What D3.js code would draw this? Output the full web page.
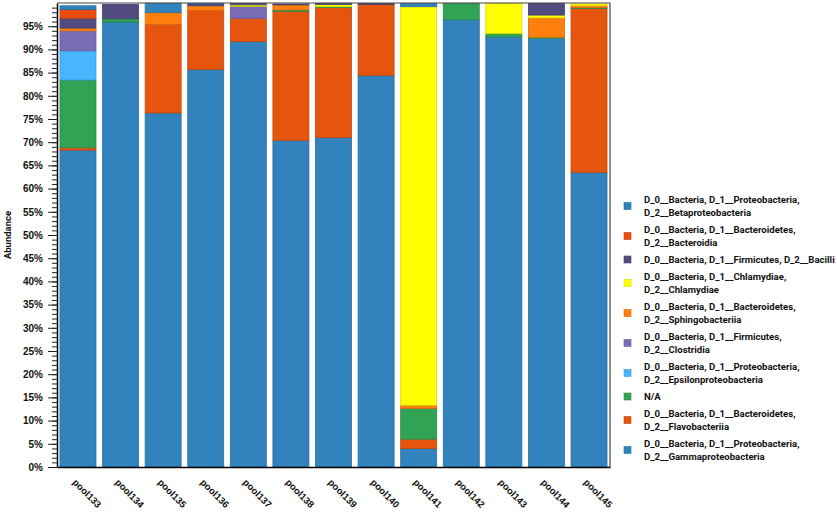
<!DOCTYPE html>
<html>
<head>
<meta charset="utf-8">
<script src="https://cdn.jsdelivr.net/npm/d3@7"></script>
<style>
  body { margin: 0; background: #fff; }
  svg { font-family: Roboto, "Noto Sans", sans-serif; }
  .tick text { font-weight: 700; fill: #111; }
</style>
</head>
<body>
<svg id="chart"></svg>
<script>
// --- data (percent abundance per pool) ---
const samples = ["pool133", "pool134", "pool135", "pool136", "pool137", "pool138", "pool139",
                 "pool140", "pool141", "pool142", "pool143", "pool144", "pool145"];

// legend order (top of legend = top of stack)
const taxa = [
    "D_0__Bacteria, D_1__Proteobacteria, D_2__Betaproteobacteria",
    "D_0__Bacteria, D_1__Bacteroidetes, D_2__Bacteroidia",
    "D_0__Bacteria, D_1__Firmicutes, D_2__Bacilli",
    "D_0__Bacteria, D_1__Chlamydiae, D_2__Chlamydiae",
    "D_0__Bacteria, D_1__Bacteroidetes, D_2__Sphingobacteriia",
    "D_0__Bacteria, D_1__Firmicutes, D_2__Clostridia",
    "D_0__Bacteria, D_1__Proteobacteria, D_2__Epsilonproteobacteria",
    "N/A",
    "D_0__Bacteria, D_1__Bacteroidetes, D_2__Flavobacteriia",
    "D_0__Bacteria, D_1__Proteobacteria, D_2__Gammaproteobacteria"
];

// how the legend wraps its labels
const legendLines = [
    ["D_0__Bacteria, D_1__Proteobacteria,", "D_2__Betaproteobacteria"],
    ["D_0__Bacteria, D_1__Bacteroidetes,", "D_2__Bacteroidia"],
    ["D_0__Bacteria, D_1__Firmicutes, D_2__Bacilli"],
    ["D_0__Bacteria, D_1__Chlamydiae,", "D_2__Chlamydiae"],
    ["D_0__Bacteria, D_1__Bacteroidetes,", "D_2__Sphingobacteriia"],
    ["D_0__Bacteria, D_1__Firmicutes,", "D_2__Clostridia"],
    ["D_0__Bacteria, D_1__Proteobacteria,", "D_2__Epsilonproteobacteria"],
    ["N/A"],
    ["D_0__Bacteria, D_1__Bacteroidetes,", "D_2__Flavobacteriia"],
    ["D_0__Bacteria, D_1__Proteobacteria,", "D_2__Gammaproteobacteria"]
];

const taxaColors = ["#3182bd", "#e84c0e", "#514b80", "#ffff00", "#ff7f0e",
                    "#7a6db5", "#48b6ff", "#31a354", "#e6550d", "#3182bd"];

// one array per taxon, values in sample order
const betaproteo   = [0.8, 0,   2.0,  0.1, 0,   0,    0,    0,    0.7,  0,    0,    0,    0];
const bacteroidia  = [1.9, 0,   0,    0,   0,   0,    0,    0,    0,    0,    0,    0,    0];
const bacilli      = [2.1, 3.1, 0,    0.4, 0.3, 0.2,  0.2,  0.2,  0,    0,    0,    2.5,  0];
const chlamydiae   = [0,   0,   0,    0,   0.3, 0,    0.5,  0,    85.9, 0,    6.5,  0.6,  0.4];
const sphingo      = [0.6, 0,   2.55, 1.0, 0,   1.1,  0,    0,    0.7,  0,    0,    4.2,  0.4];
const clostridia   = [4.3, 0,   0,    0,   2.6, 0,    0,    0,    0,    0,    0,    0,    0];
const epsilonproteo= [6.3, 0,   0,    0,   0,   0,    0,    0,    0,    0,    0,    0,    0];
const notAssigned  = [14.6,0.7, 0,    0,   0,   0.3,  0.2,  0,    6.6,  3.5,  0.7,  0.2,  0.2];
const flavo        = [0.5, 0,   19.1, 12.7,5.0, 27.8, 28.0, 15.3, 2.0,  0,    0,    0,    35.3];
const gammaproteo  = [68.3,95.9,76.3, 85.7,91.7,70.4, 71.0, 84.4, 4.0,  96.4, 92.7, 92.4, 63.5];

const series = [betaproteo, bacteroidia, bacilli, chlamydiae, sphingo,
                clostridia, epsilonproteo, notAssigned, flavo, gammaproteo];

const yMajorTicks = d3.range(0, 100, 5);   // 0% .. 95%
const yMinorTicks = d3.range(0, 100, 1);

// --- layout ---
const W = 837, H = 512;
const margin = {top: 3, right: 227, bottom: 45, left: 57};
const width = W - margin.left - margin.right,
      height = H - margin.top - margin.bottom;

const svg = d3.select("#chart").attr("width", W).attr("height", H);
const g = svg.append("g").attr("transform", `translate(${margin.left},${margin.top})`);

// table for d3.stack
const table = samples.map((s, i) => {
    const row = {sample: s};
    taxa.forEach((t, k) => row[t] = series[k][i]);
    return row;
});

// bottom of the stack is the last legend entry
const stackKeys = taxa.slice().reverse();
const stacked = d3.stack().keys(stackKeys)(table);

const color = d3.scaleOrdinal().domain(taxa).range(taxaColors);

const x = d3.scaleBand()
    .domain(samples)
    .range([0, width])
    .paddingInner(0.155)
    .paddingOuter(0.07);

const y = d3.scaleLinear().domain([0, 100]).range([height, 0]);

// bars
g.append("g").selectAll("g")
    .data(stacked)
    .join("g")
      .attr("fill", d => color(d.key))
      .attr("stroke", d => d3.color(color(d.key)).darker(0.45))
      .attr("stroke-width", 0.8)
    .selectAll("rect")
    .data(d => d.filter(p => p[1] - p[0] > 0))
    .join("rect")
      .attr("x", d => x(d.data.sample))
      .attr("y", d => y(d[1]))
      .attr("width", x.bandwidth())
      .attr("height", d => y(d[0]) - y(d[1]));

// frame (top + right)
g.append("path")
    .attr("d", `M0,0H${width}V${height}`)
    .attr("fill", "none")
    .attr("stroke", "#444")
    .attr("stroke-width", 1.2);

// y axis: minor ticks, then labelled major ticks
g.append("g")
    .call(d3.axisLeft(y).tickValues(yMinorTicks).tickSize(5).tickFormat(""))
    .call(a => a.select(".domain").remove())
    .selectAll("line").attr("stroke", "#222");

g.append("g")
    .call(d3.axisLeft(y).tickValues(yMajorTicks).tickSize(9).tickSizeOuter(0).tickPadding(5)
        .tickFormat(d => d + "%"))
    .call(a => a.select(".domain").attr("stroke", "#000").attr("stroke-width", 1.5))
    .call(a => a.selectAll("line").attr("stroke", "#222"))
    .selectAll("text").attr("font-size", 10);

// x axis
g.append("g")
    .attr("transform", `translate(0,${height})`)
    .call(d3.axisBottom(x).tickSize(0).tickSizeOuter(0))
    .call(a => a.select(".domain").attr("stroke", "#000").attr("stroke-width", 1.5))
    .selectAll("text")
      .attr("font-size", 9.5)
      .attr("y", 0).attr("dy", null)
      .attr("transform", "translate(-6,16) rotate(45)")
      .style("text-anchor", "start");

// y axis title
svg.append("text")
    .attr("transform", `translate(11,${margin.top + height / 2}) rotate(-90)`)
    .attr("text-anchor", "middle")
    .attr("font-size", 9.5)
    .attr("font-weight", 700)
    .attr("fill", "#111")
    .text("Abundance");

// legend
const legend = svg.append("g").attr("transform", "translate(624,0)");
let legendY = 191;
legendLines.forEach((lines, i) => {
    const h = lines.length * 13 + 4;
    const item = legend.append("g").attr("transform", `translate(0,${legendY})`);
    item.append("rect")
        .attr("x", 0).attr("y", h / 2 - 3.5)
        .attr("width", 7).attr("height", 7)
        .attr("fill", taxaColors[i])
        .attr("stroke", d3.color(taxaColors[i]).darker(0.4))
        .attr("stroke-width", 0.6);
    item.selectAll("text")
        .data(lines)
        .join("text")
          .attr("class", "legend-label")
          .attr("x", 20)
          .attr("y", (d, j) => 2 + 13 * j + 10)
          .attr("font-size", 10)
          .attr("font-weight", 700)
          .attr("fill", "#111")
          .text(d => d);
    legendY += h;
});

// shrink the legend font so the longest line fits the space right of the plot
const legendTexts = legend.selectAll(".legend-label");
const longest = d3.max(legendTexts.nodes(), n => n.getComputedTextLength());
const maxLegendWidth = 191;
if (longest > maxLegendWidth) {
    legendTexts.attr("font-size", 10 * maxLegendWidth / longest);
}
</script>
</body>
</html>
